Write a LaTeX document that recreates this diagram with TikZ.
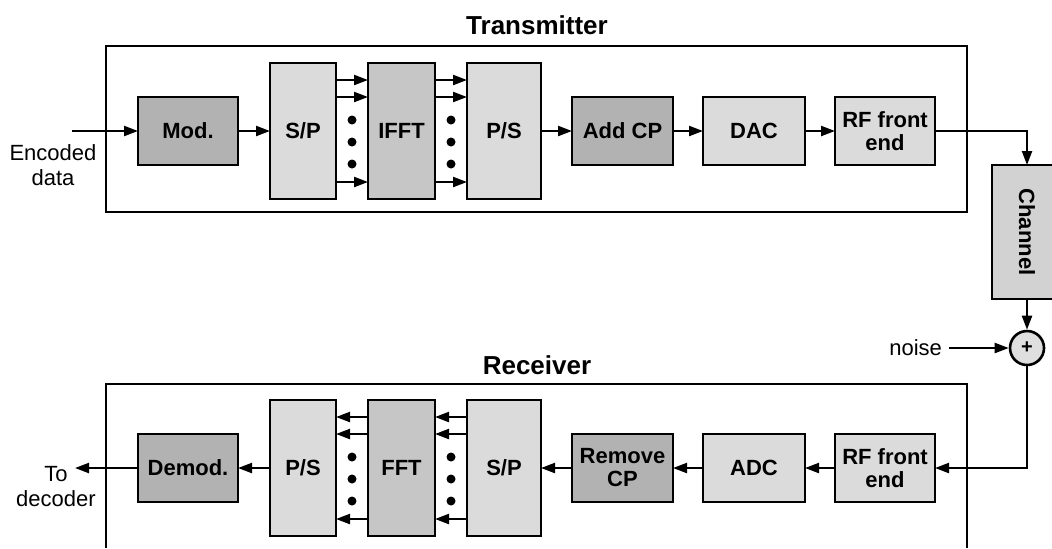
\documentclass[tikz,border=0pt]{standalone}
\usepackage{fontspec}
\setmainfont{Liberation Sans}
\usetikzlibrary{arrows.meta,positioning,calc}

\begin{document}
\begin{tikzpicture}[x=0.5pt, y=-0.5pt,
          blk/.style={draw, line width=1.3pt, minimum height=34pt, inner sep=1pt, outer sep=0pt,
                      font=\fontsize{11}{11.5}\selectfont\bfseries, align=center},
          dark/.style={blk, fill=gray!60},
          light/.style={blk, fill=gray!28},
          tall/.style={light, minimum height=68pt, minimum width=33pt},
          frame/.style={line width=1pt},
          arr/.style={-{Triangle[length=7pt, width=5pt]}, line width=1.1pt},
          lbl/.style={font=\fontsize{11}{12.5}\selectfont, align=center},
          title/.style={font=\fontsize{13}{14}\selectfont\bfseries}
        ]
          \useasboundingbox (0,0) rectangle (1052,548);

          \draw[frame] (106,46) rectangle (967,212);
          \node[title] (txtitle) at (537,25) {Transmitter};
          \node[dark, minimum width=50pt] (mod) at (188,131) {Mod.};
          \node[tall, right=16pt of mod] (sp) {S/P};
          \node[tall, fill=gray!45, minimum width=33.5pt, right=16pt of sp] (ifft) {IFFT};
          \node[tall, minimum width=37pt, right=16pt of ifft] (ps) {P/S};
          \node[dark, minimum width=50.5pt, right=15.5pt of ps] (addcp) {Add CP};
          \node[light, minimum width=51pt, right=15pt of addcp] (dac) {DAC};
          \node[light, minimum width=50pt, right=15pt of dac] (txrf) {RF front\\end};
          \coordinate (in) at (72,131);
          \node[lbl] (enc) at (53,165) {Encoded\\data};

          \draw[arr] (in) -- (mod);
          \draw[arr] (mod) -- (sp);
          \foreach \a/\b in {sp/ifft, ifft/ps} {
            \foreach \dy in {25.5,17,-25.5}
              \draw[arr] ([yshift=\dy pt]\a.east) -- ([yshift=\dy pt]\b.west);
            \foreach \dy in {-11,11,33}
              \fill ($(\a.east)!.5!(\b.west)+(0,\dy)$) circle (4.5);
          }
          \draw[arr] (ps) -- (addcp);
          \draw[arr] (addcp) -- (dac);
          \draw[arr] (dac) -- (txrf);

          \node[light, fill=gray!35, minimum width=67pt, minimum height=35pt, rotate=-90] (chan) at (1027,232) {Channel};
          \node[draw, circle, line width=1.3pt, fill=gray!25, minimum size=17pt, inner sep=0pt,
                font=\bfseries] (sum) at (1027,348) {+};
          \node[lbl, anchor=east] (noise) at (949,348) {noise};
          \draw[arr] (txrf.east) -| (chan);
          \draw[arr] (chan) -- (sum);
          \draw[arr] (noise) -- (sum);

          \draw[frame] (106,548) -- (106,384) -- (967,384) -- (967,548);
          \node[title] (rxtitle) at (537,365) {Receiver};
          \node[light, minimum width=50pt] (rxrf) at (885,468) {RF front\\end};
          \node[light, minimum width=51pt, left=15pt of rxrf] (adc) {ADC};
          \node[dark, minimum width=50.5pt, left=15pt of adc] (rmcp) {Remove\\CP};
          \node[tall, minimum width=37pt, left=15.5pt of rmcp] (rxsp) {S/P};
          \node[tall, fill=gray!45, minimum width=33.5pt, left=16pt of rxsp] (fft) {FFT};
          \node[tall, left=16pt of fft] (rxps) {P/S};
          \node[dark, minimum width=50pt, left=16pt of rxps] (demod) {Demod.};
          \coordinate (out) at (75,468);
          \node[lbl] (dec) at (56,487) {To\\decoder};

          \draw[arr] (sum) |- (rxrf);
          \draw[arr] (rxrf) -- (adc);
          \draw[arr] (adc) -- (rmcp);
          \draw[arr] (rmcp) -- (rxsp);
          \foreach \a/\b in {rxsp/fft, fft/rxps} {
            \foreach \dy in {25.5,17,-25.5}
              \draw[arr] ([yshift=\dy pt]\a.west) -- ([yshift=\dy pt]\b.east);
            \foreach \dy in {-11,11,33}
              \fill ($(\a.west)!.5!(\b.east)+(0,\dy)$) circle (4.5);
          }
          \draw[arr] (rxps) -- (demod);
          \draw[arr] (demod) -- (out);
        \end{tikzpicture}
\end{document}
